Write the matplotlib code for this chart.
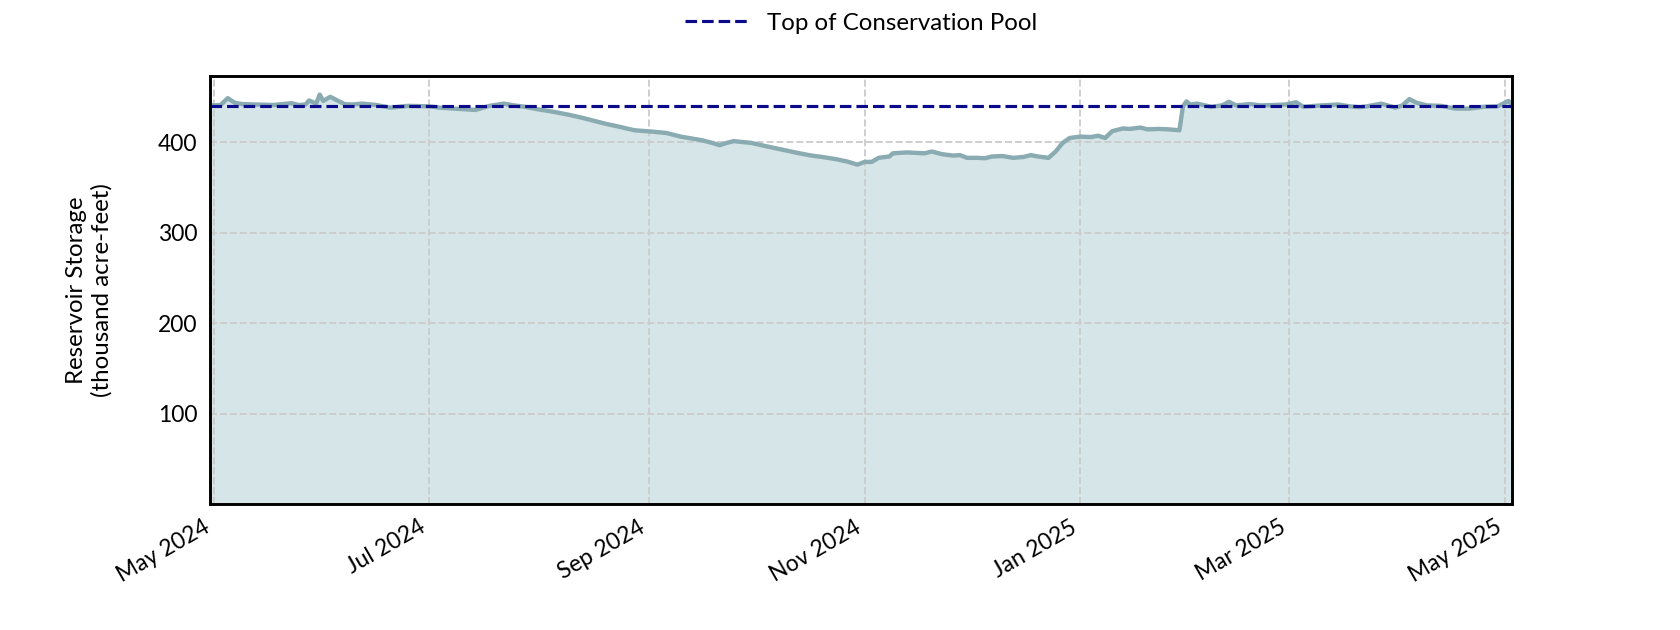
import matplotlib
matplotlib.use("Agg")
import matplotlib.pyplot as plt
import matplotlib.dates as mdates
import pandas as pd

start_date = "2024-05-01"
day_offsets = [-1, 2, 4, 6, 8, 12, 17, 22, 24, 26, 27, 29, 30, 31, 33, 35, 37, 39, 42, 46,
               50, 55, 61, 64, 68, 74, 78, 82, 85, 88, 92, 96, 100, 104, 107, 111, 114, 119,
               124, 128, 132, 135, 138, 141, 143, 145, 147, 152, 156, 159, 162, 165, 169, 172,
               176, 179, 182, 184, 186, 188, 191, 192, 196, 201, 203, 206, 209, 211, 213, 216,
               218, 220, 223, 226, 229, 231, 233, 236, 238, 240, 242, 245, 248, 250, 252, 254,
               257, 259, 262, 264, 267, 270, 273, 274, 275, 276, 278, 282, 285, 287, 289, 293,
               296, 300, 303, 306, 308, 313, 318, 321, 324, 326, 330, 334, 336, 338, 340, 343,
               347, 351, 355, 359, 363, 366, 367]
storage = [441, 441.5, 449, 444, 442.5, 442, 441.5, 443.5, 441.5, 442, 446.5, 443, 453, 446,
           450.5, 446.5, 442.5, 442, 443, 441.5, 438.5, 440.5, 440, 438.5, 437.5, 436, 440.5,
           443, 441, 439.5, 436.5, 434, 431, 427.5, 424.5, 420.5, 418, 413.5, 412, 410.5, 406.5,
           404.5, 402.5, 399.5, 397, 399.5, 401.5, 399.5, 396, 393.5, 391, 388.5, 385.5, 384,
           381.5, 379, 375.5, 378.5, 378.5, 383, 384.5, 388, 389, 388, 390, 387, 385.5, 386, 383,
           383, 382.5, 384.5, 385, 383, 384, 386, 384.5, 383, 390, 399.5, 405, 406.5, 406, 407.5,
           405, 412.5, 415.5, 415, 416.5, 414.5, 415, 414.5, 413.5, 440, 445.5, 442, 443, 439.5,
           441, 445, 441, 442.5, 441, 441.5, 442, 444.5, 439.5, 441, 442, 440, 439, 440, 443,
           438.5, 441, 448, 444, 441, 440.5, 437.5, 437.5, 439.5, 440, 446, 442]
pool_top = 440
y_ticks = [100, 200, 300, 400]

dates = pd.Timestamp(start_date) + pd.to_timedelta(day_offsets, unit="D")

plt.rcParams['font.family'] = ['Lato', 'DejaVu Sans']

fig, ax = plt.subplots(figsize=(11.2, 4.2), dpi=150)
fig.subplots_adjust(left=0.125, right=0.9, top=0.88, bottom=0.2)

ax.fill_between(dates, storage, 0, color="#d6e5e8", zorder=1)
ax.plot(dates, storage, color="#8aabb1", lw=2.1, zorder=3)
ax.axhline(pool_top, color="#0a0a8a", lw=1.5, ls="--", label="Top of Conservation Pool", zorder=4)

ax.set_xlim(dates[0], dates[-1])
ax.set_ylim(0, 474)
ax.set_yticks(y_ticks)
ax.xaxis.set_major_locator(mdates.MonthLocator(bymonth=[1, 3, 5, 7, 9, 11]))
ax.xaxis.set_major_formatter(mdates.DateFormatter("%b %Y"))
ax.grid(True, ls="--", color="#cccccc", lw=0.9, zorder=2)
ax.set_axisbelow(False)
ax.tick_params(length=0, labelsize=11, pad=6)
for s in ax.spines.values():
    s.set_linewidth(1.4)
    s.set_color("black")
    s.set_zorder(5)

ax.set_ylabel("Reservoir Storage\n(thousand acre-feet)", fontsize=11.5, labelpad=22)
for lab in ax.get_xticklabels():
    lab.set_rotation(30)
    lab.set_ha("right")

ax.legend(loc="center", bbox_to_anchor=(0.5, 1.122), frameon=False, fontsize=11.5,
          handlelength=2.6)

fig.savefig("out.png", dpi=150)
